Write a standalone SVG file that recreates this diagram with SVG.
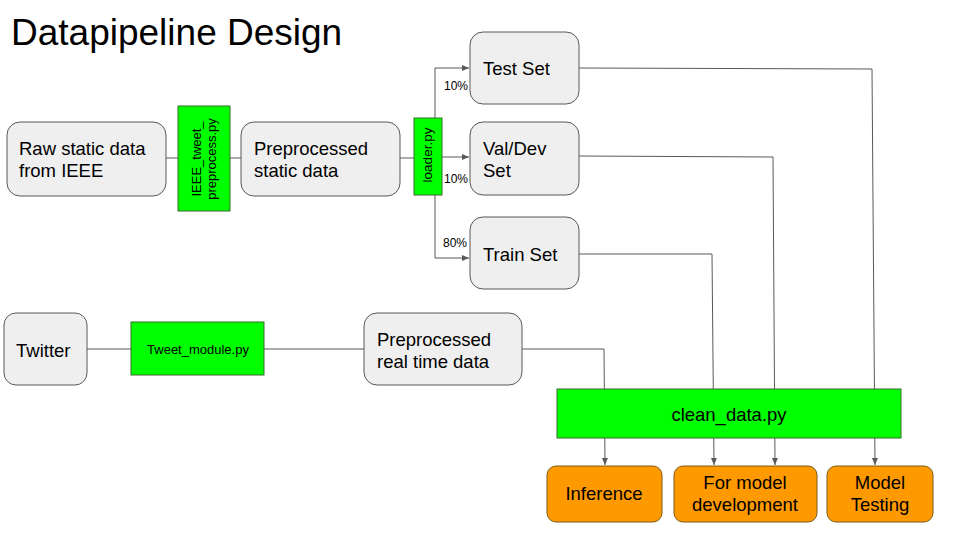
<svg xmlns="http://www.w3.org/2000/svg" width="960" height="540" viewBox="0 0 960 540">
<defs>
<marker id="arr" markerWidth="8" markerHeight="8" refX="7" refY="4" orient="auto" markerUnits="userSpaceOnUse">
<path d="M0,1 L7,4 L0,7 Z" fill="#595959"/>
</marker>
<style>
.t{font-family:"Liberation Sans",Arial,sans-serif;fill:#000}
.L{font-size:18.5px}
.g{fill:#efefef;stroke:#595959;stroke-width:1}
.gr{fill:#00ff00;stroke:#3a6b2a;stroke-width:1}
.or{fill:#ff9900;stroke:#7a5a1a;stroke-width:1}
.c{fill:none;stroke:#595959;stroke-width:1}
.a{fill:none;stroke:#595959;stroke-width:1;marker-end:url(#arr)}
</style>
</defs>
<rect width="960" height="540" fill="#fff"/>
<text class="t" x="11" y="45" font-size="37">Datapipeline Design</text>

<g id="connectors">
<line class="c" x1="166" y1="158" x2="178" y2="158"/>
<line class="c" x1="230" y1="158" x2="241" y2="158"/>
<line class="c" x1="400" y1="158" x2="414" y2="158"/>
<polyline class="a" points="435,118 435,68 469,68"/>
<line class="a" x1="442" y1="157" x2="469" y2="157"/>
<polyline class="a" points="435,195 435,258 469,258"/>
<polyline class="a" points="579,68 872,69 875,465"/>
<polyline class="a" points="579,156 773,157 775,465"/>
<polyline class="a" points="579,254 712,254 714,465"/>
<line class="c" x1="87" y1="349" x2="131" y2="349"/>
<line class="c" x1="264" y1="349" x2="364" y2="349"/>
<polyline class="a" points="522,349 604,349 605,465"/>
</g>

<g id="raw">
<rect class="g" x="7" y="122" width="159" height="74" rx="13"/>
<text class="t L" x="19" y="155">Raw static data</text>
<text class="t L" x="19" y="177">from IEEE</text>
</g>
<g id="ieee_pre">
<rect class="gr" x="178" y="106" width="52" height="105"/>
<text class="t" font-size="13" text-anchor="middle" transform="translate(201,159) rotate(-90)">IEEE_tweet_</text>
<text class="t" font-size="13" text-anchor="middle" transform="translate(216,159) rotate(-90)">preprocess.py</text>
</g>
<g id="prestatic">
<rect class="g" x="241" y="122" width="159" height="74" rx="13"/>
<text class="t L" x="254" y="155">Preprocessed</text>
<text class="t L" x="254" y="177">static data</text>
</g>
<g id="loader">
<rect class="gr" x="414" y="118" width="28" height="77"/>
<text class="t" font-size="13.5" text-anchor="middle" transform="translate(432,155) rotate(-90)">loader.py</text>
</g>
<g id="pct">
<text class="t" x="444" y="90" font-size="12">10%</text>
<text class="t" x="444" y="183" font-size="12">10%</text>
<text class="t" x="443" y="247" font-size="12">80%</text>
</g>
<g id="test">
<rect class="g" x="470" y="32" width="109" height="72" rx="13"/>
<text class="t L" x="483" y="75">Test Set</text>
</g>
<g id="val">
<rect class="g" x="470" y="122" width="109" height="73" rx="13"/>
<text class="t L" x="483" y="155">Val/Dev</text>
<text class="t L" x="483" y="177">Set</text>
</g>
<g id="train">
<rect class="g" x="470" y="217" width="109" height="72" rx="13"/>
<text class="t L" x="483" y="261">Train Set</text>
</g>
<g id="twitter">
<rect class="g" x="4" y="313" width="83" height="72" rx="12"/>
<text class="t L" x="16" y="357">Twitter</text>
</g>
<g id="tweet_module">
<rect class="gr" x="131" y="322" width="133" height="53"/>
<text class="t" x="198" y="354" font-size="13" text-anchor="middle">Tweet_module.py</text>
</g>
<g id="prerealtime">
<rect class="g" x="364" y="313" width="158" height="72" rx="13"/>
<text class="t L" x="377" y="346">Preprocessed</text>
<text class="t L" x="377" y="368">real time data</text>
</g>
<g id="clean">
<rect class="gr" x="557" y="389" width="344" height="49"/>
<text class="t L" x="729" y="421" text-anchor="middle">clean_data.py</text>
</g>
<g id="inference">
<rect class="or" x="547" y="466" width="115" height="56" rx="9"/>
<text class="t L" x="604" y="500" text-anchor="middle">Inference</text>
</g>
<g id="dev">
<rect class="or" x="674" y="466" width="143" height="56" rx="9"/>
<text class="t L" x="745" y="489" text-anchor="middle">For model</text>
<text class="t L" x="745" y="511" text-anchor="middle">development</text>
</g>
<g id="testing">
<rect class="or" x="827" y="466" width="106" height="56" rx="9"/>
<text class="t L" x="880" y="489" text-anchor="middle">Model</text>
<text class="t L" x="880" y="511" text-anchor="middle">Testing</text>
</g>
</svg>
